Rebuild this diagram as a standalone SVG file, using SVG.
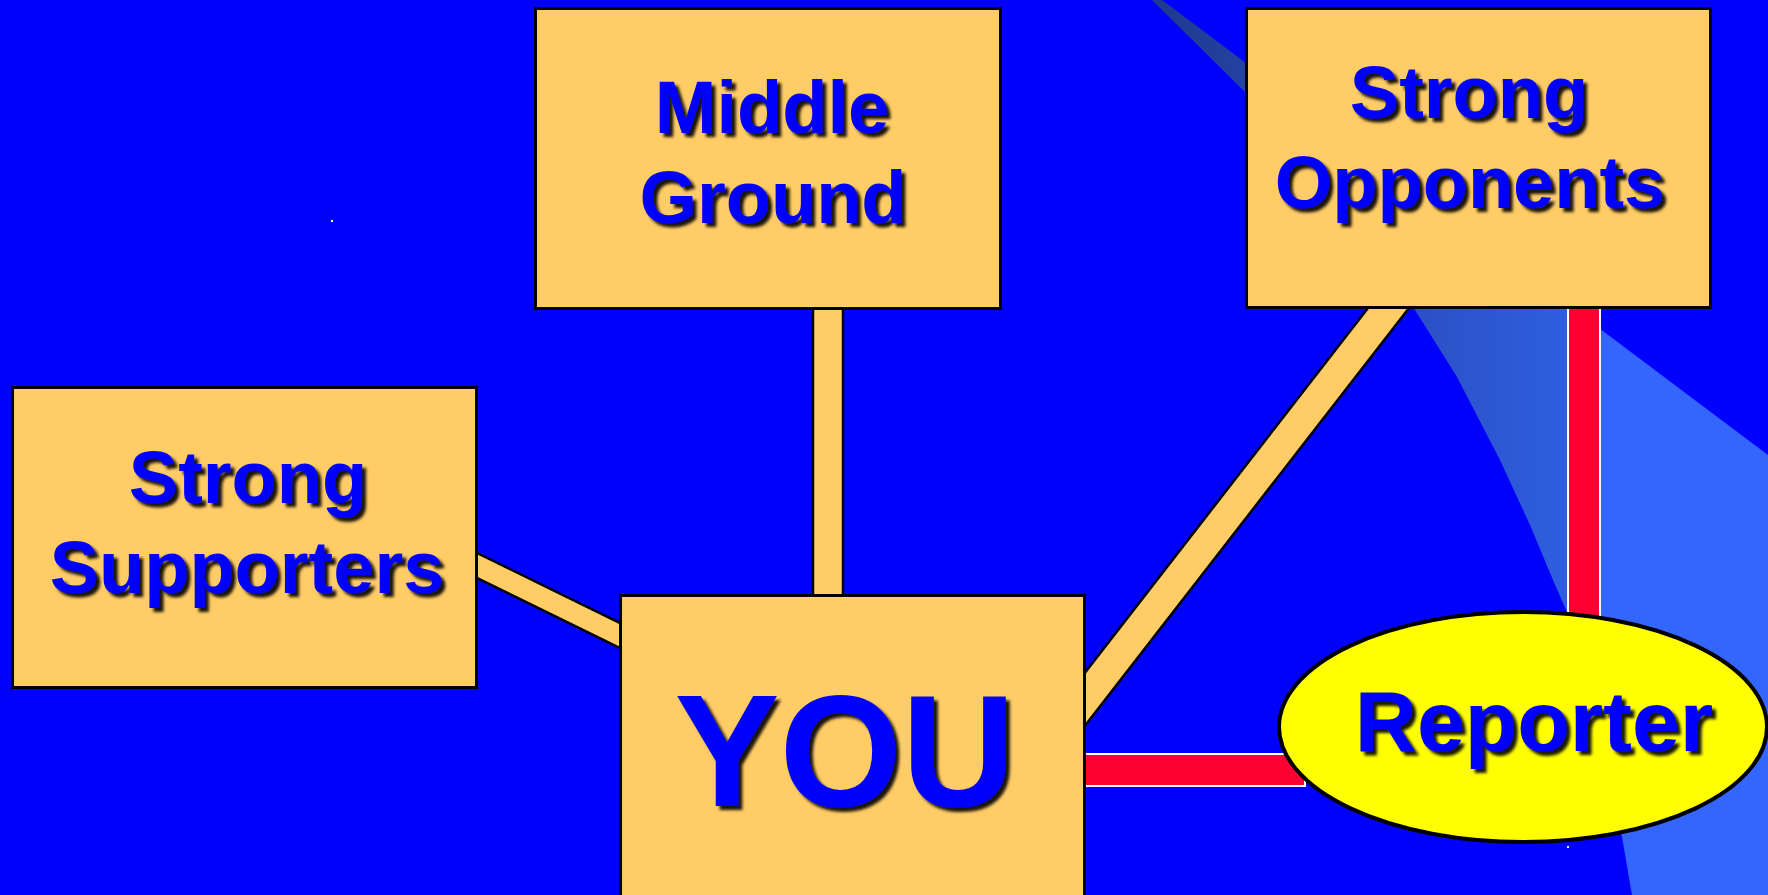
<svg xmlns="http://www.w3.org/2000/svg" width="1768" height="895" viewBox="0 0 1768 895">
<defs>
<linearGradient id="swoosh" gradientUnits="userSpaceOnUse" x1="1150" y1="0" x2="1600" y2="0">
<stop offset="0" stop-color="#1E3A8C"/>
<stop offset="0.59" stop-color="#2C50C4"/>
<stop offset="0.92" stop-color="#2E5EE0"/>
<stop offset="1" stop-color="#3366FF"/>
</linearGradient>
<filter id="shadow" x="-10%" y="-20%" width="130%" height="150%">
<feDropShadow dx="4" dy="4" stdDeviation="1.6" flood-color="#000000" flood-opacity="0.9"/>
</filter>
<style>
.box{fill:#FFCC66;stroke:#000000;stroke-width:3}
.ybar{fill:#FFCC66;stroke:#000000;stroke-width:2.5}
.rbar{fill:#FF0033;stroke:#FFFFFF;stroke-width:2}
.lbl{font-family:"Liberation Sans",Arial,Helvetica,sans-serif;font-weight:bold;fill:#0000FF;text-anchor:middle;filter:url(#shadow)}
</style>
</defs>
<rect x="0" y="0" width="1768" height="895" fill="#0000FF"/>
<polygon points="1152,0 1162,0 1768,455 1768,895 1632,895 1622,837 1567,612 1553,580 1530,525 1500,460 1457,377 1415,310 1243,90" fill="url(#swoosh)"/>
<rect x="331" y="220" width="2" height="2" fill="#FFFFFF"/>
<rect x="1567" y="846" width="2" height="2" fill="#FFFFFF"/>
<g id="connectors">
<polygon class="ybar" points="460,544.7 640,632.9 640,657.9 460,569.7"/>
<rect class="ybar" x="813" y="300" width="30" height="300"/>
<polygon class="ybar" points="1382,290 1423,290 1070,745 1070,692"/>
<rect class="rbar" x="1075" y="754" width="230" height="32"/>
<rect class="rbar" x="1568" y="300" width="32" height="340"/>
</g>
<g id="middle-ground">
<rect class="box" x="535.5" y="8.5" width="465" height="300"/>
<text class="lbl" x="772" y="133" font-size="74">Middle</text>
<text class="lbl" x="773" y="223" font-size="74">Ground</text>
</g>
<g id="strong-opponents">
<rect class="box" x="1246.5" y="8.5" width="464" height="299"/>
<text class="lbl" x="1469" y="118" font-size="74">Strong</text>
<text class="lbl" x="1470" y="208" font-size="74">Opponents</text>
</g>
<g id="strong-supporters">
<rect class="box" x="12.5" y="387.5" width="464" height="300"/>
<text class="lbl" x="248" y="503" font-size="74">Strong</text>
<text class="lbl" x="247" y="593" font-size="74">Supporters</text>
</g>
<g id="you">
<rect class="box" x="620.5" y="595.5" width="464" height="320"/>
<text class="lbl" x="845" y="806" font-size="160" textLength="341" lengthAdjust="spacingAndGlyphs">YOU</text>
</g>
<g id="reporter">
<ellipse cx="1523" cy="727" rx="244" ry="115" fill="#FFFF00" stroke="#000000" stroke-width="4"/>
<text class="lbl" x="1534" y="751" font-size="86">Reporter</text>
</g>
</svg>
